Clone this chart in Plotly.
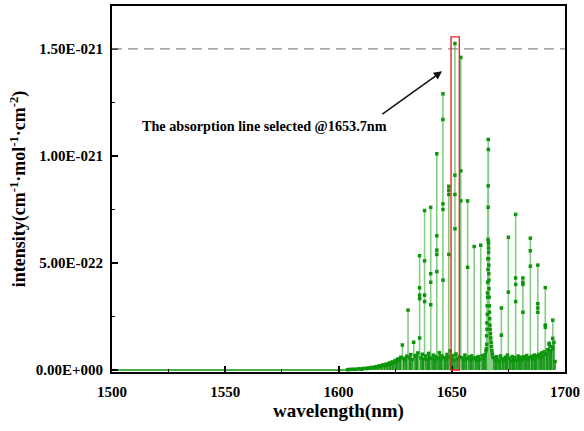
import plotly.graph_objects as go

# ---------------- data (intensity in units of 1e-21 cm^-1/(molecule cm^-2)) ----------------
UNIT = 1e-21

# flat region before the band
FLAT_NM = [1500.0, 1550.0, 1600.0, 1604.0]
FLAT_INT = [0.0, 0.0, 0.0, 0.0]

# weak lines forming the dense base of the band
WEAK_NM = [1604.0, 1605.1, 1606.3, 1607.2, 1608.4, 1609.5, 1610.3, 1611.2, 1612.4, 1613.1,
           1614.0, 1614.8, 1615.7, 1616.5, 1617.2, 1618.0, 1618.8, 1619.5, 1620.3, 1621.0,
           1621.7, 1622.4, 1623.0, 1623.7, 1624.3, 1625.0, 1625.6, 1626.2, 1626.9, 1627.5,
           1628.8, 1629.4, 1630.1, 1631.3, 1631.9, 1632.5, 1633.8, 1634.4, 1635.0, 1636.4,
           1637.0, 1637.5, 1638.6, 1639.2, 1639.8, 1640.2, 1641.3, 1641.9, 1642.5, 1643.0,
           1643.9, 1644.5, 1645.1, 1645.6, 1646.7, 1647.3, 1647.9, 1648.3, 1649.3, 1649.9,
           1650.5, 1651.0, 1651.9, 1652.6, 1653.3, 1654.6, 1655.2, 1655.8, 1656.4, 1657.6,
           1658.2, 1658.8, 1659.4, 1660.5, 1661.1, 1661.7, 1662.2, 1663.4, 1664.0, 1664.6,
           1665.1, 1668.6, 1669.2, 1669.8, 1670.4, 1671.0, 1671.5, 1672.4, 1673.0, 1673.6,
           1674.2, 1674.6, 1675.5, 1676.1, 1676.7, 1677.3, 1677.8, 1678.7, 1679.3, 1679.9,
           1680.5, 1681.0, 1681.9, 1682.5, 1683.1, 1683.7, 1684.2, 1685.2, 1685.8, 1686.4,
           1687.0, 1687.5, 1688.5, 1689.1, 1689.7, 1690.3, 1690.8, 1691.8, 1692.3, 1693.0,
           1693.6, 1694.1, 1695.1, 1695.6]
WEAK_INT = [0.002, 0.003, 0.004, 0.003, 0.005, 0.006, 0.004, 0.008, 0.007, 0.010,
            0.009, 0.013, 0.011, 0.016, 0.014, 0.020, 0.017, 0.024, 0.021, 0.028,
            0.025, 0.033, 0.029, 0.038, 0.034, 0.045, 0.040, 0.052, 0.046, 0.060,
            0.055, 0.048, 0.065, 0.058, 0.072, 0.050, 0.068, 0.062, 0.080, 0.057,
            0.074, 0.052, 0.066, 0.049, 0.078, 0.060, 0.054, 0.070, 0.047, 0.063,
            0.056, 0.081, 0.052, 0.066, 0.058, 0.049, 0.073, 0.061, 0.090, 0.055,
            0.068, 0.047, 0.075, 0.052, 0.062, 0.058, 0.045, 0.070, 0.053, 0.061,
            0.048, 0.066, 0.052, 0.058, 0.045, 0.063, 0.050, 0.067, 0.055, 0.072,
            0.090, 0.058, 0.045, 0.062, 0.050, 0.040, 0.066, 0.052, 0.044, 0.060,
            0.048, 0.070, 0.055, 0.042, 0.063, 0.050, 0.058, 0.046, 0.065, 0.053,
            0.060, 0.048, 0.062, 0.055, 0.068, 0.050, 0.058, 0.064, 0.052, 0.070,
            0.058, 0.066, 0.073, 0.060, 0.080, 0.065, 0.085, 0.075, 0.095, 0.120,
            0.090, 0.110, 0.130, 0.040]

# Q-branch cluster near 1666 nm
Q_NM = [1665.30, 1665.38, 1665.45, 1665.52, 1665.58, 1665.64, 1665.70, 1665.76, 1665.82, 1665.88,
        1665.93, 1665.98, 1666.02, 1666.06, 1666.09, 1666.12, 1666.15, 1666.19, 1666.22, 1666.25,
        1666.28, 1666.31, 1666.34, 1666.37, 1666.40, 1666.44, 1666.50, 1666.58, 1666.66, 1666.75,
        1666.85, 1666.96, 1667.08, 1667.22, 1667.38, 1667.55, 1667.75, 1667.95, 1668.20]
Q_INT = [0.10, 0.16, 0.12, 0.22, 0.19, 0.30, 0.26, 0.36, 0.41, 0.34,
         0.52, 0.47, 0.61, 0.76, 0.86, 1.077, 1.03, 0.60, 0.59, 0.57,
         0.55, 0.52, 0.49, 0.45, 0.42, 0.38, 0.34, 0.30, 0.27, 0.24,
         0.21, 0.19, 0.17, 0.15, 0.13, 0.11, 0.09, 0.075, 0.06]

# strong isolated lines (peak values)
STRONG_NM = [1628.2, 1630.7, 1633.2, 1635.8, 1638.0, 1640.7, 1643.4, 1646.1, 1648.7, 1651.4,
             1654.0, 1657.0, 1659.9, 1662.8, 1671.9, 1675.0, 1678.2, 1681.4, 1684.7, 1688.0,
             1691.3, 1693.0, 1694.6]
STRONG_INT = [0.117, 0.28, 0.13, 0.534, 0.745, 0.76, 1.01, 1.29, 0.858, 1.525,
              1.46, 0.79, 0.577, 0.583, 0.29, 0.62, 0.727, 0.43, 0.616, 0.49,
              0.385, 0.125, 0.233]

# weaker lines lying on top of the strong ones (same wavelength within ~0.01 nm)
SUB_NM = [1635.79, 1635.80, 1635.81, 1635.82,
          1637.99, 1638.01, 1638.02,
          1640.69, 1640.71, 1640.72,
          1643.39, 1643.41, 1643.42, 1643.43,
          1646.09, 1646.11, 1646.12, 1646.13,
          1648.69, 1648.71, 1648.72,
          1651.39, 1651.41, 1651.42,
          1653.99, 1654.01,
          1656.99,
          1671.89,
          1674.99,
          1678.19, 1678.21, 1678.22,
          1681.39, 1681.41, 1681.42,
          1684.69, 1684.71,
          1687.99, 1688.01, 1688.02,
          1691.29, 1691.31,
          1694.59, 1694.61]
SUB_INT = [0.384, 0.35, 0.333, 0.15,
           0.51, 0.35, 0.32,
           0.45, 0.41, 0.305,
           0.627, 0.56, 0.54, 0.46,
           1.17, 0.776, 0.75, 0.42,
           0.84, 0.82, 0.54,
           0.91, 0.82, 0.66,
           0.93, 0.79,
           0.48,
           0.163,
           0.364,
           0.43, 0.40, 0.32,
           0.41, 0.40, 0.27,
           0.557, 0.485,
           0.31, 0.29, 0.27,
           0.21, 0.20,
           0.148, 0.10]

SELECTED_NM = 1651.4          # line highlighted by the red box
LEVEL_DASH = 1.50             # dashed reference level (x1e-21)

Y_TICKS = [0.0, 0.5, 1.0, 1.5]
Y_TICKTEXT = ["0.00E+000", "5.00E-022", "1.00E-021", "1.50E-021"]
Y_MINOR = [0.25, 0.75, 1.25]
X_TICKS = [1500, 1550, 1600, 1650, 1700]
X_MINOR = [1525, 1575, 1625, 1675]


def stems(nms, vals):
    sx, sy = [], []
    for nm, v in zip(nms, vals):
        sx += [nm, nm, None]
        sy += [0.0, v * UNIT, None]
    return sx, sy


FONT = "Liberation Serif"
GREEN_LINE = "#86cc86"
GREEN_MARK = "#0c960c"
GREEN_BASE = "#1a961a"

fig = go.Figure()

# zero line of the flat part
fig.add_trace(go.Scatter(x=FLAT_NM, y=[v * UNIT for v in FLAT_INT], mode="lines",
                         line=dict(color=GREEN_MARK, width=1.6),
                         showlegend=False, hoverinfo="skip"))

# stems of strong lines and Q-branch (light green)
sx, sy = stems(STRONG_NM + Q_NM, STRONG_INT + Q_INT)
fig.add_trace(go.Scatter(x=sx, y=sy, mode="lines",
                         line=dict(color=GREEN_LINE, width=1.6),
                         showlegend=False, hoverinfo="skip"))

# dense weak-line base (dark green)
wx, wy = stems(WEAK_NM, WEAK_INT)
fig.add_trace(go.Scatter(x=wx, y=wy, mode="lines",
                         line=dict(color=GREEN_BASE, width=1.6),
                         showlegend=False, hoverinfo="skip"))

# markers at every line
all_nm = WEAK_NM + Q_NM + STRONG_NM + SUB_NM
all_int = WEAK_INT + Q_INT + STRONG_INT + SUB_INT
fig.add_trace(go.Scatter(x=all_nm, y=[v * UNIT for v in all_int], mode="markers",
                         marker=dict(symbol="square", size=3.5, color=GREEN_MARK, line=dict(width=0)),
                         showlegend=False, hoverinfo="skip"))

# dashed level line
fig.add_shape(type="line", xref="paper", yref="y", x0=0, x1=1,
              y0=LEVEL_DASH * UNIT, y1=LEVEL_DASH * UNIT,
              line=dict(color="#8a8a8a", width=1.3, dash="10px,6px"))
# red box around the selected line
fig.add_shape(type="rect", xref="x", yref="y",
              x0=SELECTED_NM - 1.7, x1=SELECTED_NM + 1.95,
              y0=0, y1=1.556 * UNIT,
              line=dict(color="#e8262a", width=1.4), fillcolor="rgba(0,0,0,0)")

# arrow + text
fig.add_annotation(x=1645.7, y=1.395 * UNIT, ax=1618.7, ay=1.19 * UNIT,
                   xref="x", yref="y", axref="x", ayref="y", text="",
                   showarrow=True, arrowhead=2, arrowsize=1.1, arrowwidth=1.5,
                   arrowcolor="#111111")
fig.add_annotation(x=1567.3, y=1.139 * UNIT, xref="x", yref="y",
                   text="The absorption line selected @1653.7nm", showarrow=False,
                   font=dict(family=FONT, size=14.2, color="black", weight="bold"))

axis_common = dict(
    showgrid=False, zeroline=False, showline=True, linecolor="black", linewidth=2,
    mirror=True, ticks="inside", ticklen=6, tickwidth=1.5, tickcolor="black",
    tickfont=dict(family=FONT, size=15, color="black", weight="bold"),
)

fig.update_xaxes(
    range=[1500, 1700], tickmode="array", tickvals=X_TICKS,
    minor=dict(ticks="inside", ticklen=3, tickwidth=1.2, tickcolor="black",
               tickmode="array", tickvals=X_MINOR),
    title=dict(text="wavelength(nm)", standoff=4,
               font=dict(family=FONT, size=19, color="black", weight="bold")),
    ticklabelstandoff=5,
    **axis_common,
)
fig.update_yaxes(
    range=[-0.009 * UNIT, 1.70 * UNIT], tickmode="array",
    tickvals=[v * UNIT for v in Y_TICKS], ticktext=Y_TICKTEXT,
    minor=dict(ticks="inside", ticklen=3, tickwidth=1.2, tickcolor="black",
               tickmode="array", tickvals=[v * UNIT for v in Y_MINOR]),
    title=dict(text="intensity(cm<sup>-1</sup>·mol<sup>-1</sup>·cm<sup>-2</sup>)", standoff=5,
               font=dict(family=FONT, size=18, color="black", weight="bold")),
    ticklabelstandoff=4,
    **axis_common,
)

fig.update_layout(
    width=584, height=431,
    margin=dict(l=112, r=15, t=4, b=59),
    paper_bgcolor="white", plot_bgcolor="white",
    showlegend=False,
)

fig.write_html("out.html")
